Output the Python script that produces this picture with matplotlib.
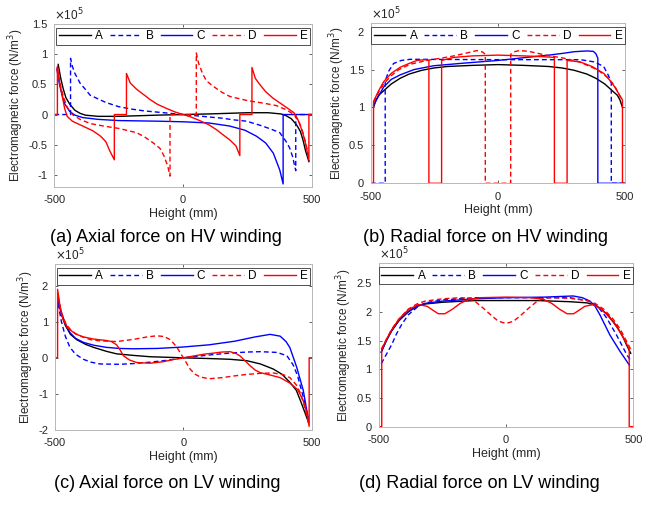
import numpy as np
import matplotlib
matplotlib.use("Agg")
import matplotlib.pyplot as plt

plt.rcParams['font.family'] = ['Liberation Sans', 'DejaVu Sans']
plt.rcParams['axes.unicode_minus'] = False

labels = ['A', 'B', 'C', 'D', 'E']
colors = ['k', 'b', 'b', 'r', 'r']
styles = ['-', '--', '-', '--', '-']

# (a) axial force on HV winding, units of 1e5 N/m^3
ha_A = [(-485, 0.83), (-475, 0.6), (-465, 0.42), (-455, 0.28), (-440, 0.17), (-420, 0.07),
        (-400, 0.02), (-380, -0.01), (-330, -0.03), (-250, -0.03), (-100, -0.01), (0, 0.0),
        (100, 0.01), (250, 0.03), (330, 0.03), (380, 0.01), (400, -0.02), (420, -0.07),
        (440, -0.17), (455, -0.28), (465, -0.42), (475, -0.6), (488, -0.78)]
ha_B = [(-500, 0), (-437, 0), (-437, 0.93), (-430, 0.8), (-420, 0.68), (-400, 0.52), (-380, 0.42),
        (-361, 0.32), (-300, 0.2), (-250, 0.13), (-200, 0.09), (-150, 0.06), (-100, 0.04),
        (-50, 0.02), (0, 0), (50, -0.02), (100, -0.04), (150, -0.06), (200, -0.09), (246, -0.11),
        (300, -0.18), (340, -0.24), (375, -0.3), (400, -0.45), (413, -0.55), (425, -0.7),
        (437, -0.93), (437, 0), (500, 0)]
ha_C = [(-490, 0.75), (-480, 0.5), (-470, 0.32), (-460, 0.18), (-440, 0.05), (-420, -0.01),
        (-390, -0.05), (-330, -0.08), (-250, -0.1), (-100, -0.11), (0, -0.12), (100, -0.14),
        (180, -0.19), (240, -0.26), (285, -0.36), (320, -0.47), (350, -0.64), (375, -0.92),
        (388, -1.15), (388, 0), (500, 0)]
ha_D = [(-490, 0.78), (-480, 0.55), (-465, 0.3), (-450, 0.12), (-430, 0.0), (-400, -0.08),
        (-360, -0.15), (-310, -0.19), (-250, -0.23), (-181, -0.3), (-150, -0.37), (-116, -0.47),
        (-90, -0.56), (-75, -0.68), (-60, -0.85), (-51, -1.02), (-51, 0), (51, 0), (51, 1.02),
        (60, 0.85), (75, 0.68), (90, 0.56), (116, 0.47), (150, 0.37), (181, 0.3), (250, 0.23),
        (310, 0.19), (360, 0.15), (400, 0.08), (430, 0.0), (450, -0.12), (465, -0.3),
        (480, -0.55), (490, -0.78)]
ha_E = [(-500, 0), (-488, 0), (-488, 0.8), (-478, 0.5), (-470, 0.33), (-460, 0.1), (-450, -0.03),
        (-430, -0.11), (-390, -0.19), (-350, -0.27), (-320, -0.36), (-300, -0.45), (-285, -0.6),
        (-267, -0.75), (-267, 0), (-220, 0), (-220, 0.68), (-205, 0.52), (-181, 0.42),
        (-150, 0.32), (-129, 0.25), (-100, 0.17), (-64, 0.1), (-30, 0.04), (0, 0.0), (30, -0.04),
        (64, -0.1), (100, -0.17), (129, -0.25), (150, -0.32), (181, -0.42), (205, -0.52),
        (220, -0.68), (220, 0), (267, 0), (267, 0.78), (280, 0.6), (297, 0.5), (320, 0.38),
        (349, 0.27), (400, 0.12), (430, 0.03), (445, -0.08), (460, -0.25), (472, -0.42),
        (488, -0.75), (488, 0), (500, 0)]

# (b) radial force on HV winding
hr_A = [(-490, 1.0), (-480, 1.1), (-470, 1.16), (-450, 1.22), (-420, 1.31), (-385, 1.385),
        (-350, 1.44), (-300, 1.49), (-253, 1.52), (-200, 1.54), (-100, 1.555), (0, 1.565),
        (100, 1.555), (200, 1.54), (253, 1.52), (300, 1.49), (350, 1.44), (385, 1.385),
        (420, 1.31), (450, 1.22), (470, 1.16), (480, 1.1), (490, 1.0)]
hr_B = [(-500, 0), (-444, 0), (-444, 1.35), (-430, 1.48), (-411, 1.58), (-380, 1.62),
        (-345, 1.635), (0, 1.63), (324, 1.63), (380, 1.6), (416, 1.54), (435, 1.42),
        (446, 1.32), (446, 0), (500, 0)]
hr_C = [(-490, 1.03), (-470, 1.15), (-450, 1.27), (-420, 1.37), (-385, 1.43), (-330, 1.5),
        (-253, 1.55), (-150, 1.58), (0, 1.62), (127, 1.665), (200, 1.69), (259, 1.715),
        (300, 1.735), (350, 1.745), (375, 1.74), (385, 1.71), (393, 1.65), (393, 0), (500, 0)]
hr_D = [(-490, 1.07), (-470, 1.2), (-450, 1.31), (-420, 1.42), (-390, 1.5), (-345, 1.57),
        (-280, 1.62), (-188, 1.67), (-120, 1.72), (-83, 1.75), (-60, 1.73), (-50, 1.7), (-50, 0),
        (50, 0), (50, 1.7), (60, 1.73), (83, 1.75), (120, 1.74), (188, 1.69), (259, 1.65),
        (320, 1.6), (390, 1.5), (430, 1.4), (460, 1.28), (490, 1.08)]
hr_E = [(-500, 0), (-490, 0), (-490, 1.08), (-470, 1.22), (-450, 1.34), (-420, 1.45),
        (-385, 1.53), (-350, 1.58), (-319, 1.62), (-290, 1.63), (-272, 1.62), (-272, 0),
        (-222, 0), (-222, 1.62), (-174, 1.66), (-100, 1.68), (0, 1.69), (100, 1.68),
        (174, 1.67), (222, 1.66), (222, 0), (272, 0), (272, 1.62), (324, 1.6), (370, 1.54),
        (416, 1.45), (450, 1.32), (470, 1.21), (490, 1.1), (490, 0), (500, 0)]

# (c) axial force on LV winding
lc_A = [(-488, 1.6), (-475, 1.2), (-460, 0.9), (-440, 0.65), (-415, 0.5), (-380, 0.37),
        (-350, 0.29), (-300, 0.18), (-260, 0.11), (-200, 0.07), (-130, 0.03), (0, 0),
        (100, -0.02), (180, -0.04), (247, -0.08), (300, -0.17), (350, -0.31), (385, -0.46),
        (415, -0.68), (440, -0.9), (454, -1.15), (470, -1.45), (488, -1.8)]
lc_B = [(-488, 1.5), (-475, 1.0), (-460, 0.6), (-442, 0.29), (-420, 0.1), (-390, -0.04),
        (-360, -0.12), (-325, -0.17), (-250, -0.18), (-195, -0.16), (-130, -0.12), (-65, -0.07),
        (0, 0), (117, 0.09), (180, 0.13), (247, 0.16), (300, 0.17), (364, 0.15), (403, 0.06),
        (428, -0.2), (445, -0.5), (460, -0.9), (475, -1.3), (488, -1.75)]
lc_C = [(-488, 1.6), (-475, 1.25), (-460, 0.95), (-442, 0.7), (-420, 0.54), (-390, 0.43),
        (-350, 0.35), (-300, 0.29), (-250, 0.26), (-195, 0.25), (-100, 0.26), (0, 0.3),
        (100, 0.36), (200, 0.46), (280, 0.58), (338, 0.65), (377, 0.6), (400, 0.45),
        (415, 0.28), (441, -0.25), (467, -0.9), (488, -1.75)]
lc_D = [(-488, 1.7), (-475, 1.25), (-460, 0.98), (-442, 0.8), (-420, 0.67), (-390, 0.57),
        (-360, 0.5), (-325, 0.47), (-260, 0.45), (-195, 0.51), (-140, 0.58), (-104, 0.61),
        (-75, 0.59), (-50, 0.5), (-26, 0.3), (0, 0.0), (26, -0.31), (45, -0.45), (65, -0.53),
        (100, -0.58), (150, -0.55), (200, -0.5), (247, -0.46), (300, -0.43), (350, -0.42),
        (390, -0.47), (415, -0.55), (440, -0.75), (454, -0.95), (470, -1.3), (488, -1.8)]
lc_E = [(-500, 0), (-490, 0), (-490, 1.9), (-480, 1.4), (-468, 1.05), (-450, 0.82), (-420, 0.66),
        (-390, 0.58), (-350, 0.52), (-300, 0.48), (-280, 0.45), (-260, 0.36), (-245, 0.2),
        (-234, 0.06), (-210, -0.06), (-182, -0.13), (-130, -0.15), (-80, -0.11), (-40, -0.05),
        (0, 0), (40, 0.05), (80, 0.1), (117, 0.13), (150, 0.16), (182, 0.17), (205, 0.12),
        (221, 0.05), (240, -0.08), (260, -0.22), (280, -0.34), (299, -0.41), (340, -0.48),
        (377, -0.55), (415, -0.7), (445, -0.88), (465, -1.15), (480, -1.5), (490, -1.9),
        (490, 0), (500, 0)]

# (d) radial force on LV winding
lr_A = [(-490, 1.3), (-470, 1.5), (-449, 1.67), (-420, 1.85), (-384, 2.0), (-350, 2.1),
        (-318, 2.14), (-250, 2.17), (-122, 2.2), (0, 2.2), (122, 2.2), (250, 2.18), (318, 2.16),
        (350, 2.12), (369, 2.07), (400, 1.95), (434, 1.76), (460, 1.56), (474, 1.42),
        (490, 1.28)]
lr_B = [(-490, 1.1), (-470, 1.26), (-449, 1.43), (-430, 1.62), (-410, 1.78), (-384, 1.95),
        (-350, 2.08), (-318, 2.16), (-250, 2.21), (-122, 2.25), (0, 2.25), (150, 2.25),
        (250, 2.25), (320, 2.2), (360, 2.1), (395, 1.9), (434, 1.6), (460, 1.38), (474, 1.26),
        (490, 1.15)]
lr_C = [(-490, 1.3), (-470, 1.5), (-449, 1.68), (-420, 1.86), (-384, 2.01), (-350, 2.1),
        (-318, 2.15), (-250, 2.19), (-122, 2.23), (0, 2.25), (150, 2.26), (264, 2.28),
        (300, 2.25), (330, 2.19), (350, 2.1), (369, 1.95), (408, 1.6), (447, 1.32), (470, 1.17),
        (485, 1.07)]
lr_D = [(-490, 1.35), (-470, 1.52), (-449, 1.7), (-420, 1.88), (-384, 2.05), (-350, 2.14),
        (-318, 2.19), (-250, 2.23), (-180, 2.25), (-150, 2.24), (-120, 2.18), (-90, 2.07),
        (-60, 1.95), (-30, 1.84), (0, 1.8), (30, 1.84), (60, 1.95), (90, 2.07), (120, 2.18),
        (150, 2.24), (180, 2.25), (250, 2.24), (318, 2.2), (350, 2.15), (384, 2.05),
        (420, 1.88), (449, 1.7), (470, 1.52), (490, 1.35)]
lr_E = [(-500, 0), (-488, 0), (-488, 1.35), (-470, 1.52), (-449, 1.69), (-420, 1.88),
        (-384, 2.04), (-344, 2.13), (-310, 2.1), (-266, 1.97), (-240, 1.97), (-210, 2.05),
        (-180, 2.15), (-148, 2.22), (-100, 2.25), (0, 2.26), (100, 2.25), (148, 2.22),
        (180, 2.15), (210, 2.05), (240, 1.97), (266, 1.97), (310, 2.1), (343, 2.13),
        (370, 2.06), (395, 1.96), (420, 1.83), (447, 1.66), (470, 1.48), (484, 1.35),
        (484, 0), (500, 0)]

panels = [
    ([ha_A, ha_B, ha_C, ha_D, ha_E], (-1.2, 1.5), [-1, -0.5, 0, 0.5, 1, 1.5],
     [0.0833, 0.6312, 0.3952, 0.3215], '(a) Axial force on HV winding', (0.255, 0.532)),
    ([hr_A, hr_B, hr_C, hr_D, hr_E], (0, 2.11), [0, 0.5, 1, 1.5, 2],
     [0.569, 0.6385, 0.3896, 0.3156], '(b) Radial force on HV winding', (0.744, 0.532)),
    ([lc_A, lc_B, lc_C, lc_D, lc_E], (-2, 2.6), [-2, -1, 0, 1, 2],
     [0.0844, 0.1519, 0.3937, 0.3274], '(c) Axial force on LV winding', (0.257, 0.047)),
    ([lr_A, lr_B, lr_C, lr_D, lr_E], (0, 2.85), [0, 0.5, 1, 1.5, 2, 2.5],
     [0.5808, 0.1584, 0.3905, 0.3223], '(d) Radial force on LV winding', (0.735, 0.047)),
]

fig = plt.figure(figsize=(6.52, 5.07), dpi=100)
grey = '#262626'
for series, ylim, yticks, pos, caption, cpos in panels:
    ax = fig.add_axes(pos)
    for pts, lab, c, ls in zip(series, labels, colors, styles):
        xy = np.array(pts, dtype=float)
        if ls == '--':
            ax.plot(xy[:, 0], xy[:, 1], color=c, lw=1.0, dashes=(3.5, 2.2), label=lab)
        else:
            ax.plot(xy[:, 0], xy[:, 1], color=c, lw=1.0, label=lab)
    ax.set_xlim(-500, 500)
    ax.set_ylim(*ylim)
    ax.set_xticks([-500, 0, 500])
    ax.set_yticks(yticks)
    ax.set_yticklabels([f'{v:g}' for v in yticks])
    ax.tick_params(direction='in', length=2.5, width=0.5, labelsize=8, colors=grey,
                   top=True, right=True)
    ax.tick_params(axis='y', pad=5)
    ax.tick_params(axis='x', pad=6)
    for s in ax.spines.values():
        s.set_color('#b8b8b8')
        s.set_linewidth(0.7)
    ax.set_xlabel('Height (mm)', fontsize=9, color=grey, labelpad=2)
    ax.set_ylabel('Electromagnetic force (N/m$^3$)', fontsize=8.5, color=grey, labelpad=1.5)
    ax.text(0, 1.005, r'$\times$10$^5$', transform=ax.transAxes, fontsize=8.5, color=grey,
            ha='left', va='bottom')
    leg = ax.legend(ncol=5, loc='upper center', fontsize=8.5, frameon=True, fancybox=False,
                    handlelength=2.7, columnspacing=0.6, handletextpad=0.35,
                    borderaxespad=0.35, borderpad=0.2, framealpha=1)
    leg.get_frame().set_edgecolor('#333333')
    leg.get_frame().set_linewidth(0.6)
    fig.text(cpos[0], cpos[1], caption, fontsize=13, ha='center', va='center', color='black')

fig.savefig('out.png', dpi=100)
